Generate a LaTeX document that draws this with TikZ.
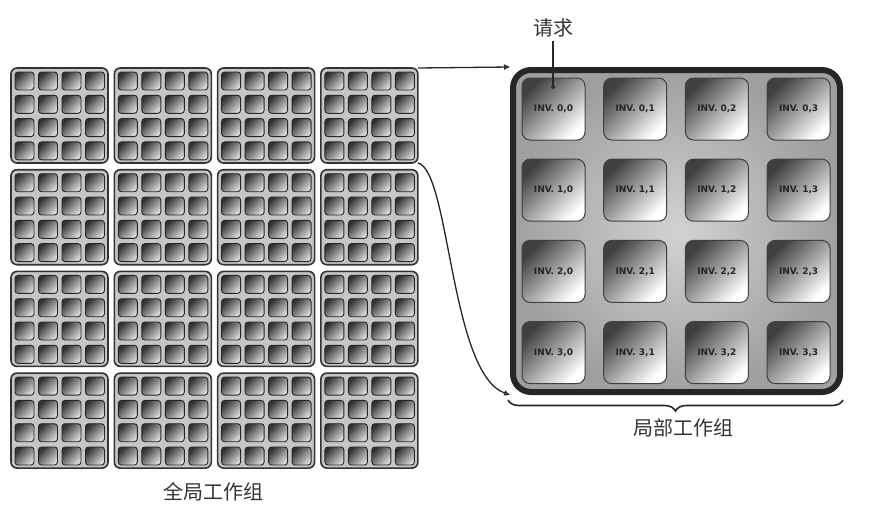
\documentclass[tikz,border=0pt]{standalone}
\usepackage{fontspec}
\newfontfamily\cjk{Noto Sans CJK SC}
\newfontfamily\invfont{DejaVu Sans}
\usetikzlibrary{arrows.meta,decorations.pathreplacing}
\begin{document}
\begin{tikzpicture}[x=1pt,y=-1pt,
  tile/.style={draw=black!80, line width=1.6pt, rounded corners=6pt, fill=gray!45,
    minimum width=97pt, minimum height=95pt, inner sep=0pt, outer sep=0pt},
  sq/.style={draw=black!85, line width=0.9pt, rounded corners=3pt,
    top color=black!80, bottom color=gray!30, shading angle=45},
  lwg/.style={draw=black!85, line width=6pt, rounded corners=18pt,
    inner color=gray!35, outer color=gray!75,
    minimum width=327pt, minimum height=322pt, inner sep=0pt, outer sep=3pt},
  inv/.style={draw=black!75, line width=1pt, rounded corners=8pt,
    top color=black!75, bottom color=white, shading angle=45,
    minimum width=63pt, minimum height=62pt, inner sep=0pt,
    font=\invfont\bfseries\fontsize{9}{10}\selectfont, text=black!85},
  lbl/.style={font=\cjk\fontsize{20}{22}\selectfont, text=black!80},
  conn/.style={draw=black!85, line width=1.3pt, -{Triangle[open,length=6pt,width=5pt]}}
]
\useasboundingbox (0,0) rectangle (875,506);

% global work-group: 4x4 tiles, each with 4x4 cells
\foreach \r in {0,...,3}{
  \foreach \c in {0,...,3}{
    \pgfmathsetmacro{\xx}{11+\c*103.3}
    \pgfmathsetmacro{\yy}{68+\r*101.7}
    \node[tile] (t\r\c) at (\xx+48.5,\yy+47.5) {};
    \foreach \i in {0,...,3}{
      \foreach \j in {0,...,3}{
        \path[sq] (\xx+4+\i*23.5,\yy+4+\j*23.3) rectangle ++(19,18);
      }
    }
  }
}
\node[lbl] (glabel) at (213,492) {全局工作组};

% local work-group
\node[lwg] (lwg) at (676.5,231) {};
\foreach \r in {0,...,3}{
  \foreach \c in {0,...,3}{
    \node[inv] (i\r\c) at (553.5+\c*81.7,109+\r*81.2) {INV. \r,\c};
  }
}
\draw[draw=black!85, line width=1.6pt, decorate,
  decoration={brace, mirror, amplitude=11pt}] (508,400) -- (843,400);
\node[lbl] (llabel) at (683,428) {局部工作组};

% request
\node[lbl] (req) at (553,28) {请求};
\coordinate (reqend) at (553,89);
\draw[draw=black!85, line width=1.2pt, -{Circle[open,length=4pt]}] (req.south) -- (reqend);

% connectors
\draw[conn] (t03.north east) -- (lwg.north west);
\draw[conn] (t03.south east) .. controls +(32,7) and +(-60,-22) .. (lwg.south west);
\end{tikzpicture}
\end{document}
